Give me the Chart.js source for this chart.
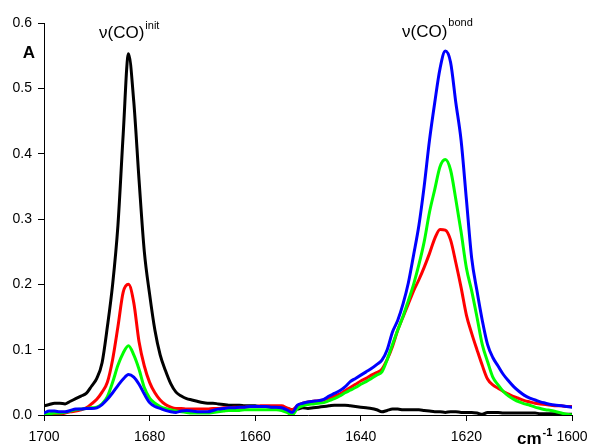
<!DOCTYPE html>
<html>
<head>
<meta charset="utf-8">
<script src="https://cdn.jsdelivr.net/npm/chart.js@4/dist/chart.umd.min.js"></script>
<style>
html,body{margin:0;padding:0;background:#fff;}
#wrap{position:relative;width:590px;height:447px;}
canvas{display:block;}
</style>
</head>
<body>
<div id="wrap"><canvas id="c" width="590" height="447"></canvas></div>
<script>
// wavenumbers, cm-1 (1700 -> 1600)
const wavenumbers = [1700,1699,1698,1697,1696,1695,1694,1693,1692,1691,
1690,1689,1688,1687,1686,1685,1684,1683,1682,1681,
1680,1679,1678,1677,1676,1675,1674,1673,1672,1671,
1670,1669,1668,1667,1666,1665,1664,1663,1662,1661,
1660,1659,1658,1657,1656,1655,1654,1653,1652,1651,
1650,1649,1648,1647,1646,1645,1644,1643,1642,1641,
1640,1639,1638,1637,1636,1635,1634,1633,1632,1631,
1630,1629,1628,1627,1626,1625,1624,1623,1622,1621,
1620,1619,1618,1617,1616,1615,1614,1613,1612,1611,
1610,1609,1608,1607,1606,1605,1604,1603,1602,1601,1600];

const blackSeries = [0.014,0.016,0.018,0.018,0.017,0.021,0.025,0.029,0.033,0.044,
0.056,0.08,0.135,0.2,0.29,0.43,0.553,0.48,0.36,0.25,
0.185,0.13,0.092,0.068,0.048,0.035,0.029,0.025,0.023,0.021,
0.019,0.018,0.018,0.017,0.016,0.015,0.015,0.015,0.014,0.014,
0.014,0.013,0.013,0.012,0.012,0.012,0.010,0.008,0.009,0.011,
0.010,0.011,0.012,0.013,0.014,0.015,0.015,0.015,0.014,0.013,
0.012,0.011,0.010,0.008,0.005,0.007,0.009,0.009,0.008,0.008,
0.008,0.008,0.007,0.006,0.005,0.005,0.004,0.005,0.005,0.004,
0.004,0.004,0.003,0.001,0.004,0.004,0.004,0.003,0.003,0.003,
0.003,0.003,0.003,0.003,0.002,0.002,0.002,0.002,0.001,0.001,0.001];

const redSeries = [-0.002,0.000,0.000,0.001,0.003,0.005,0.006,0.008,0.011,0.017,
0.024,0.035,0.05,0.085,0.135,0.188,0.2,0.172,0.112,0.075,
0.05,0.034,0.023,0.016,0.012,0.010,0.010,0.009,0.009,0.009,
0.009,0.009,0.010,0.010,0.011,0.011,0.012,0.012,0.012,0.013,
0.013,0.014,0.014,0.014,0.014,0.014,0.011,0.008,0.014,0.018,
0.020,0.021,0.022,0.023,0.026,0.029,0.032,0.037,0.042,0.047,
0.052,0.056,0.061,0.065,0.070,0.085,0.105,0.13,0.15,0.17,
0.19,0.207,0.226,0.247,0.27,0.284,0.283,0.268,0.233,0.195,
0.153,0.125,0.10,0.076,0.055,0.046,0.041,0.036,0.032,0.028,
0.025,0.022,0.020,0.018,0.017,0.016,0.015,0.014,0.014,0.013,0.013];

const greenSeries = [0.001,0.002,0.003,0.003,0.004,0.006,0.008,0.009,0.010,0.011,
0.012,0.017,0.028,0.05,0.076,0.095,0.106,0.092,0.07,0.042,
0.026,0.018,0.013,0.010,0.008,0.006,0.005,0.004,0.003,0.003,
0.003,0.003,0.004,0.005,0.006,0.007,0.007,0.007,0.008,0.008,
0.008,0.008,0.008,0.008,0.008,0.007,0.004,0.000,0.010,0.014,
0.016,0.017,0.018,0.019,0.022,0.025,0.029,0.034,0.038,0.042,
0.047,0.051,0.056,0.061,0.066,0.085,0.108,0.13,0.151,0.175,
0.20,0.23,0.265,0.31,0.345,0.38,0.391,0.375,0.33,0.28,
0.225,0.19,0.15,0.108,0.082,0.058,0.046,0.036,0.029,0.024,
0.020,0.017,0.015,0.012,0.010,0.008,0.007,0.005,0.003,0.001,0.000];

const blueSeries = [0.003,0.006,0.006,0.005,0.005,0.007,0.009,0.009,0.010,0.010,
0.011,0.016,0.024,0.034,0.045,0.055,0.062,0.058,0.047,0.032,
0.019,0.013,0.010,0.007,0.005,0.004,0.006,0.007,0.006,0.005,
0.005,0.005,0.007,0.009,0.010,0.011,0.011,0.012,0.012,0.013,
0.013,0.013,0.013,0.012,0.012,0.011,0.008,0.004,0.015,0.018,
0.020,0.021,0.022,0.024,0.029,0.033,0.037,0.043,0.051,0.056,
0.061,0.066,0.071,0.077,0.084,0.100,0.127,0.145,0.17,0.202,
0.245,0.29,0.35,0.42,0.478,0.53,0.557,0.54,0.478,0.42,
0.33,0.24,0.19,0.145,0.108,0.088,0.075,0.062,0.052,0.043,
0.036,0.030,0.026,0.023,0.020,0.018,0.016,0.015,0.014,0.013,0.012];

const xTicks = [1700,1680,1660,1640,1620,1600];
const yTicks = [0,0.1,0.2,0.3,0.4,0.5,0.6];

const FONT = "'Liberation Sans', Arial, sans-serif";

function pts(vals){ return wavenumbers.map((w,i)=>({x:w,y:vals[i]})); }
function ds(vals,color,order){
  return {data:pts(vals),borderColor:color,backgroundColor:color,borderWidth:3,
    pointRadius:0,cubicInterpolationMode:'monotone',fill:false,order:order,
    borderJoinStyle:'round',borderCapStyle:'round'};
}

const textPlugin = {
  id:'texts',
  afterDraw(chart){
    const c = chart.ctx;
    c.save();
    c.fillStyle = '#000';
    c.textBaseline = 'alphabetic';
    // y-axis unit
    c.font = "bold 17px " + FONT;
    c.textAlign = 'center';
    c.fillText('A', 29, 58);
    // x-axis unit
    c.textAlign = 'left';
    c.font = "bold 17px " + FONT;
    c.fillText('cm', 517, 444);
    let w = c.measureText('cm').width;
    c.font = "bold 11px " + FONT;
    c.fillText('-1', 517 + w + 1, 436);
    // peak labels
    c.font = "17px " + FONT;
    c.fillText('\u03BD(CO)', 99, 38);
    w = c.measureText('\u03BD(CO)').width;
    c.font = "11px " + FONT;
    c.fillText('init', 99 + w + 1, 29);
    c.font = "17px " + FONT;
    c.fillText('\u03BD(CO)', 402, 37);
    w = c.measureText('\u03BD(CO)').width;
    c.font = "11px " + FONT;
    c.fillText('bond', 402 + w + 1, 26);
    c.restore();
  }
};

new Chart(document.getElementById('c'), {
  type:'line',
  data:{datasets:[
    ds(blackSeries,'#000000',4),
    ds(redSeries,'#ff0000',3),
    ds(greenSeries,'#00ff00',2),
    ds(blueSeries,'#0000ff',1)
  ]},
  options:{
    responsive:false, animation:false, devicePixelRatio:1,
    layout:{padding:{top:23,right:18,left:0,bottom:0}},
    plugins:{legend:{display:false},tooltip:{enabled:false},title:{display:false}},
    scales:{
      x:{type:'linear',reverse:true,min:1600,max:1700,
        afterFit(s){ s.height = 32; s.paddingLeft = 0; s.paddingRight = 0; },
        afterBuildTicks(s){ s.ticks = xTicks.map(v=>({value:v})); },
        grid:{display:true,drawOnChartArea:false,drawTicks:true,tickLength:6,color:'#000',lineWidth:1},
        border:{display:true,color:'#000',width:1},
        ticks:{color:'#000',font:{family:FONT,size:14},padding:8,maxRotation:0,autoSkip:false,
          callback:v=>String(v)}
      },
      y:{type:'linear',min:0,max:0.6,
        afterFit(s){ s.width = 44; s.paddingTop = 0; s.paddingBottom = 0; },
        afterBuildTicks(s){ s.ticks = yTicks.map(v=>({value:v})); },
        grid:{display:true,drawOnChartArea:false,drawTicks:true,tickLength:6,color:'#000',lineWidth:1},
        border:{display:true,color:'#000',width:1},
        ticks:{color:'#000',font:{family:FONT,size:14},padding:6,autoSkip:false,
          callback:v=>Number(v).toFixed(1)}
      }
    }
  },
  plugins:[textPlugin]
});
</script>
</body>
</html>
